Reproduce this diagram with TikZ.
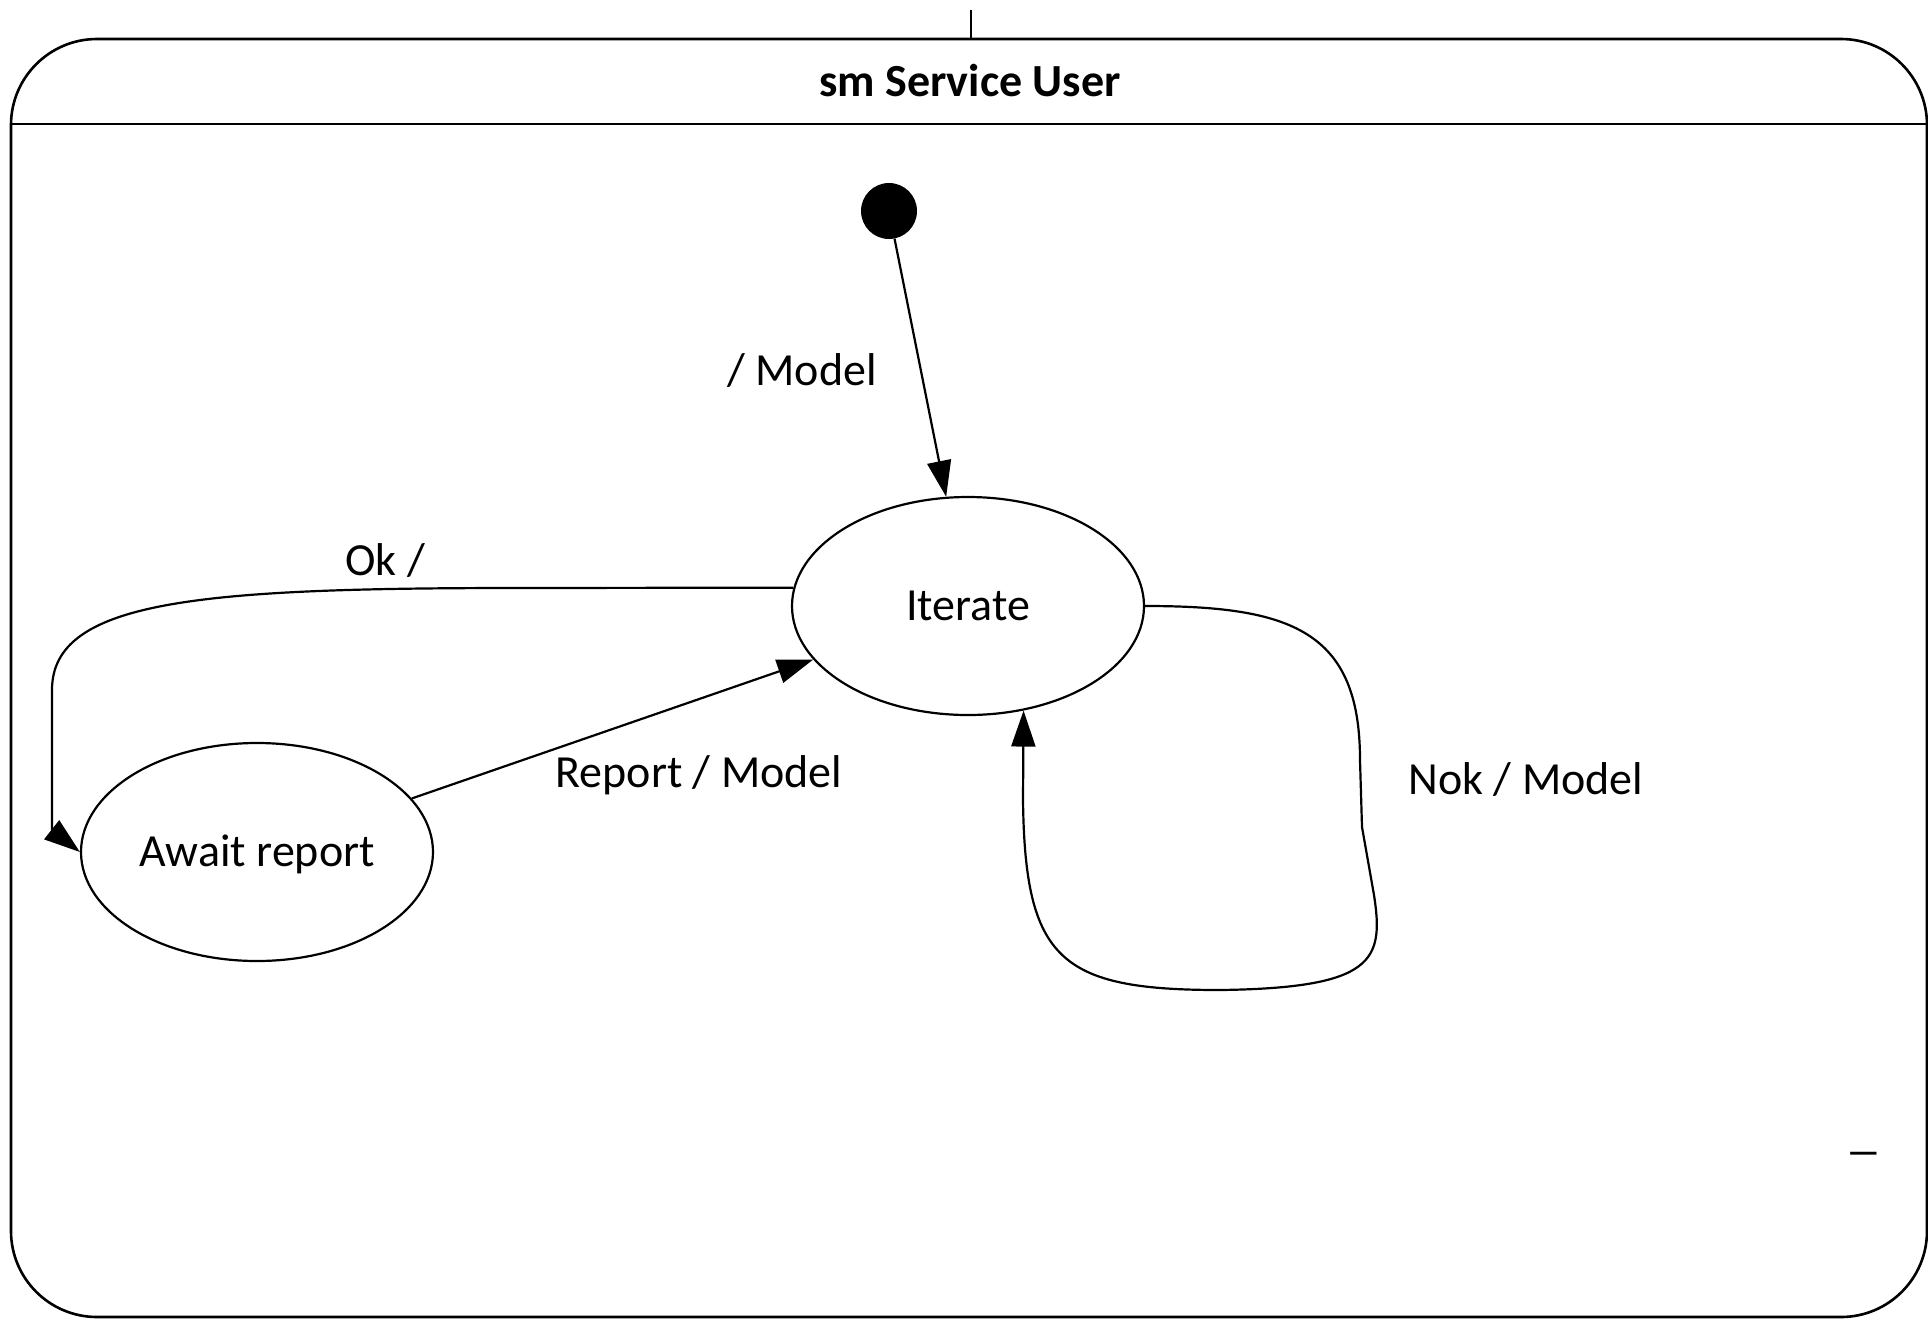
\documentclass[tikz,border=0pt]{standalone}
\usepackage{fontspec}
\setmainfont{Carlito}
\usetikzlibrary{arrows.meta,shapes.geometric}
\begin{document}
\begin{tikzpicture}[x=1pt,y=-1pt,
  lbl/.style={font=\fontsize{46}{55}\selectfont, inner sep=0pt, anchor=base},
  stbox/.style={draw, ellipse, line width=2.2pt, minimum width=352pt, minimum height=218pt,
    inner sep=0pt, font=\fontsize{46}{55}\selectfont, text height=29.6pt, text depth=0pt},
  conn/.style={line width=2.2pt, -{Triangle[length=36pt,width=24pt]}},
  frameline/.style={line width=2.6pt}]
\useasboundingbox (0,0) rectangle (1928,1318);

% state machine frame with its header
\draw[frameline, rounded corners=86pt] (11,39) rectangle (1927,1317);
\draw[frameline] (11,124) -- (1927,124);
\draw[line width=1.5pt] (971,10) -- (971,39);
\node[lbl, font=\bfseries\fontsize{46}{55}\selectfont] (title) at (970,96) {sm Service User};

% states
\node[circle, fill=black, minimum size=56pt, inner sep=0pt] (init) at (889,211) {};
\node[stbox] (iter) at (968,606) {Iterate};
\node[stbox] (await) at (257,852) {Await report};

% transitions
\draw[conn] (init) -- (iter);
\draw[conn] (await) -- (iter);
\draw[conn] (iter.174) -- (520,588) .. controls (200,588) and (52,600) .. (52,690)
  -- (52,800) .. controls (52,830) .. (await.west);
\draw[conn] (iter.east) .. controls (1290,606) and (1360,630) .. (1360,760)
  -- (1362,827) -- (1374,895) .. controls (1384,960) and (1375,988) .. (1220,990)
  .. controls (1060,990) and (1025,960) .. (1023,800) -- (iter.-62);

% transition labels
\node[lbl] (lmodel) at (802,385) {/ Model};
\node[lbl] (lok) at (385,575) {Ok /};
\node[lbl] (lreport) at (699,787) {Report / Model};
\node[lbl] (lnok) at (1526,794) {Nok / Model};
\node[lbl, xscale=1.6] (dash) at (1864,1166) {–};
\end{tikzpicture}
\end{document}
